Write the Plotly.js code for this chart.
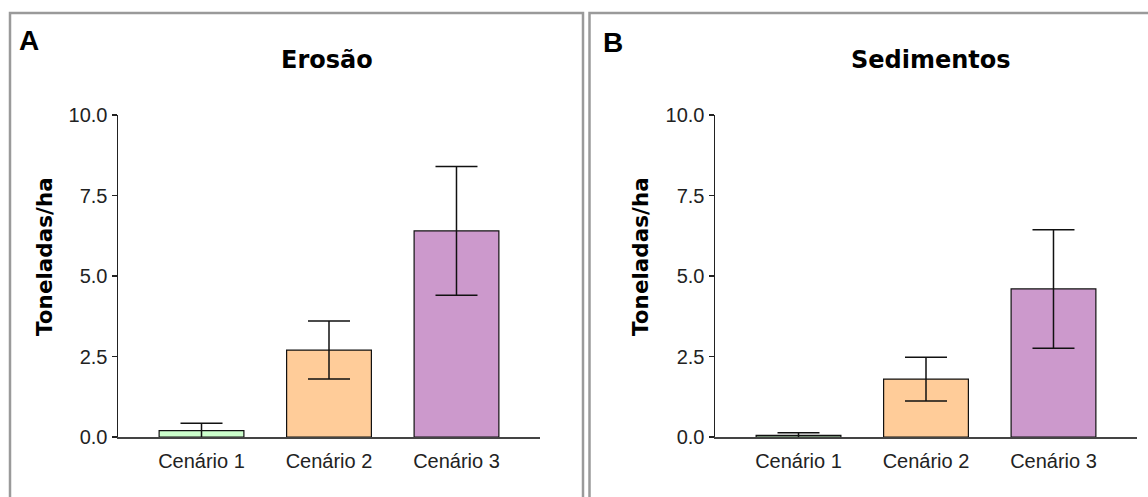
<!DOCTYPE html>
<html>
<head>
<meta charset="utf-8">
<script src="https://cdn.plot.ly/plotly-3.0.1.min.js"></script>
<style>html,body{margin:0;padding:0;background:#fff;}#chart{width:1148px;height:497px;}</style>
</head>
<body>
<div id="chart"></div>
<script>
// ---- data ----
const categories = ["Cenário 1", "Cenário 2", "Cenário 3"];
const erosaoValues = [0.2, 2.7, 6.4];
const erosaoErrors = [0.23, 0.9, 2.0];
const sedimentosValues = [0.05, 1.8, 4.6];
const sedimentosErrors = [0.08, 0.68, 1.84];
const barColors = ["#ccffcc", "#ffcc99", "#cc99cc"];
const yTickVals = [0, 2.5, 5, 7.5, 10];
const panelTitles = ["Erosão", "Sedimentos"];
const panelLetters = ["A", "B"];
const yTitle = "Toneladas/ha";

const W = 1148, H = 497;
const px = v => v / W;
const py = v => 1 - v / H;

function barTrace(vals, errs, xa, ya) {
  return {
    type: "bar",
    x: categories,
    y: vals,
    xaxis: xa, yaxis: ya,
    marker: {color: barColors, line: {color: "#111", width: 1.2}},
    error_y: {type: "data", array: errs, visible: true, color: "#111", thickness: 1.5, width: 21},
    hoverinfo: "skip",
    showlegend: false
  };
}

const tickFont = {family: "Liberation Sans, Arial, sans-serif", size: 20, color: "#222"};

function xAxis(domain) {
  return {
    domain: domain, type: "category", range: [-0.655, 2.655],
    showline: true, linecolor: "#444", linewidth: 2,
    ticks: "", showgrid: false, zeroline: false,
    tickfont: tickFont, ticklabelstandoff: 5, fixedrange: true
  };
}
function yAxis(anchor) {
  return {
    domain: [py(437), py(115)], range: [0, 10], anchor: anchor,
    tickvals: yTickVals, tickformat: ".1f",
    showline: true, linecolor: "#222", linewidth: 1.5,
    ticks: "outside", ticklen: 5, tickwidth: 1.5, tickcolor: "#222",
    showgrid: false, zeroline: false,
    tickfont: tickFont, ticklabelstandoff: 0, fixedrange: true
  };
}

const boldTitle = {family: "DejaVu Sans, Verdana, sans-serif", size: 24, color: "#000"};
const boldY = {family: "DejaVu Sans, Verdana, sans-serif", size: 21.5, color: "#000"};
const letterFont = {family: "Liberation Sans, Arial, sans-serif", size: 28, color: "#000"};

const annotations = [
  {text: "<b>" + panelTitles[0] + "</b>", x: px(327), y: py(60), xref: "paper", yref: "paper", xanchor: "center", yanchor: "middle", showarrow: false, font: boldTitle},
  {text: "<b>" + panelTitles[1] + "</b>", x: px(931), y: py(60), xref: "paper", yref: "paper", xanchor: "center", yanchor: "middle", showarrow: false, font: boldTitle},
  {text: "<b>" + panelLetters[0] + "</b>", x: px(28.5), y: py(41), xref: "paper", yref: "paper", xanchor: "center", yanchor: "middle", showarrow: false, font: letterFont},
  {text: "<b>" + panelLetters[1] + "</b>", x: px(613), y: py(42), xref: "paper", yref: "paper", xanchor: "center", yanchor: "middle", showarrow: false, font: letterFont},
  {text: "<b>" + yTitle + "</b>", x: px(44), y: py(257), xref: "paper", yref: "paper", xanchor: "center", yanchor: "middle", textangle: -90, showarrow: false, font: boldY},
  {text: "<b>" + yTitle + "</b>", x: px(640), y: py(257), xref: "paper", yref: "paper", xanchor: "center", yanchor: "middle", textangle: -90, showarrow: false, font: boldY}
];

const frameLine = {color: "#9a9a9a", width: 2.5};
const shapes = [
  {type: "rect", xref: "paper", yref: "paper", x0: px(10), x1: px(583), y0: py(505), y1: py(13), line: frameLine},
  {type: "rect", xref: "paper", yref: "paper", x0: px(589.5), x1: px(1156), y0: py(505), y1: py(13), line: frameLine}
];

const layout = {
  width: W, height: H,
  margin: {l: 0, r: 0, t: 0, b: 0},
  paper_bgcolor: "#fff", plot_bgcolor: "rgba(0,0,0,0)",
  bargap: 0.335,
  xaxis: xAxis([px(118), px(540)]),
  yaxis: yAxis("x"),
  xaxis2: Object.assign(xAxis([px(715), px(1137)]), {anchor: "y2"}),
  yaxis2: yAxis("x2"),
  annotations: annotations,
  shapes: shapes
};
layout.xaxis.anchor = "y";

Plotly.newPlot("chart", [
  barTrace(erosaoValues, erosaoErrors, "x", "y"),
  barTrace(sedimentosValues, sedimentosErrors, "x2", "y2")
], layout, {displayModeBar: false, staticPlot: true});
</script>
</body>
</html>
